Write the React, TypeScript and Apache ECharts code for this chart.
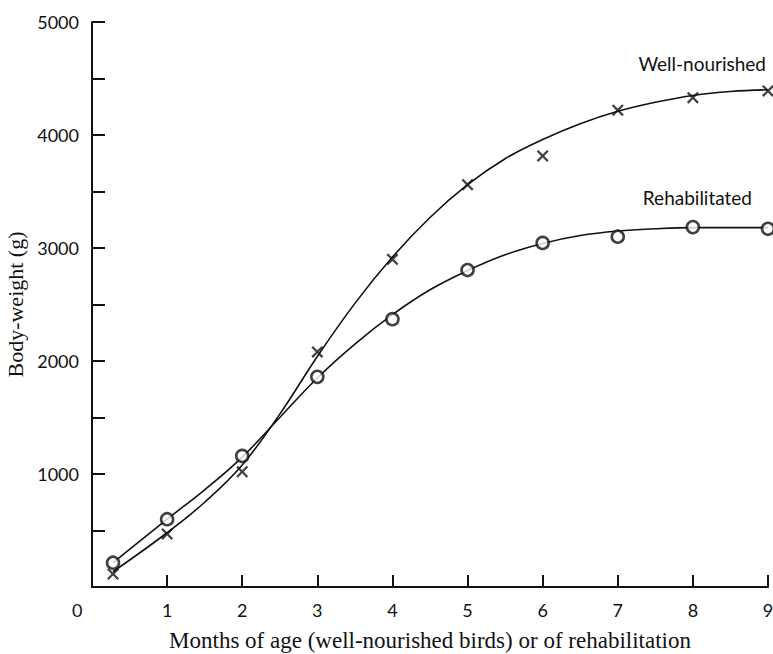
import React, { useEffect, useRef } from "react";
import * as echarts from "echarts";

// Observed points (months, body-weight g)
const wellMonths = [0.28, 1, 2, 3, 4, 5, 6, 7, 8, 9];
const wellWeights = [115, 470, 1020, 2080, 2900, 3560, 3815, 4220, 4330, 4390];
const rehabMonths = [0.28, 1, 2, 3, 4, 5, 6, 7, 8, 9];
const rehabWeights = [215, 600, 1160, 1860, 2370, 2805, 3045, 3100, 3185, 3170];

// Fitted curves
const curveMonths = [0.28, 1, 1.5, 2, 2.5, 3, 3.5, 4, 4.5, 5, 5.5, 6, 6.5, 7, 7.5, 8, 8.5, 9];
const wellCurve = [135, 480, 750, 1080, 1530, 2040, 2510, 2920, 3270, 3560, 3790, 3960, 4100, 4210, 4290, 4350, 4385, 4400];
const rehabCurve = [215, 600, 860, 1150, 1500, 1850, 2150, 2410, 2630, 2800, 2940, 3040, 3110, 3150, 3170, 3180, 3180, 3180];

const xTicks = [1, 2, 3, 4, 5, 6, 7, 8, 9];
const yTicks = [1000, 2000, 3000, 4000, 5000];

const seriesNames = ["Well-nourished", "Rehabilitated"];
const xAxisTitle = "Months of age (well-nourished birds) or of rehabilitation";
const yAxisTitle = "Body-weight (g)";

const CROSS = "path://M0,1.6L1.6,0L6,4.4L10.4,0L12,1.6L7.6,6L12,10.4L10.4,12L6,7.6L1.6,12L0,10.4L4.4,6Z";
const SANS = "Lato, 'Open Sans', sans-serif";
const SERIF = "'Liberation Serif', 'DejaVu Serif', serif";

export default function App() {
  const ref = useRef<HTMLDivElement>(null);
  useEffect(() => {
    if (!ref.current) return;
    const chart = echarts.init(ref.current, null, { renderer: "svg" });
    const pair = (xs: number[], ys: number[]) => xs.map((x, i) => [x, ys[i]]);
    chart.setOption({
      animation: false,
      backgroundColor: "#ffffff",
      grid: { left: 92, right: 5, top: 22, bottom: 67, containLabel: false, outerBoundsMode: "none" },
      xAxis: {
        type: "value",
        min: 0,
        max: 9,
        interval: 1,
        name: xAxisTitle,
        nameLocation: "middle",
        nameGap: 42,
        nameTextStyle: { fontFamily: SERIF, fontSize: 23, color: "#111" },
        axisLine: { show: true, lineStyle: { color: "#111", width: 2 } },
        axisTick: { show: true, inside: true, length: 12, lineStyle: { color: "#111", width: 2 } },
        splitLine: { show: false },
        axisLabel: {
          fontFamily: SANS,
          fontSize: 18,
          color: "#111",
          margin: 14,
          formatter: (v: number) => (xTicks.includes(v) ? String(v) : ""),
        },
      },
      yAxis: {
        type: "value",
        min: 0,
        max: 5000,
        interval: 500,
        name: yAxisTitle,
        nameLocation: "middle",
        nameGap: 64,
        nameRotate: 90,
        nameTextStyle: { fontFamily: SERIF, fontSize: 22, color: "#111" },
        axisLine: { show: true, lineStyle: { color: "#111", width: 2 } },
        axisTick: { show: true, inside: true, length: 13, lineStyle: { color: "#111", width: 2 } },
        splitLine: { show: false },
        axisLabel: {
          fontFamily: SANS,
          fontSize: 18,
          color: "#111",
          margin: 13,
          formatter: (v: number) => (yTicks.includes(v) ? String(v) : ""),
        },
      },
      graphic: [
        {
          type: "text",
          left: 72,
          top: 601,
          style: { text: "0", fontFamily: SANS, fontSize: 18, fill: "#111" },
        },
        {
          type: "text",
          right: 7,
          top: 54,
          style: { text: seriesNames[0], fontFamily: SANS, fontSize: 19, fill: "#111" },
        },
        {
          type: "text",
          right: 21,
          top: 188,
          style: { text: seriesNames[1], fontFamily: SANS, fontSize: 19, fill: "#111" },
        },
      ],
      series: [
        {
          name: seriesNames[0] + " curve",
          type: "line",
          smooth: 0.4,
          showSymbol: false,
          data: pair(curveMonths, wellCurve),
          lineStyle: { color: "#111", width: 1.6 },
          z: 2,
        },
        {
          name: seriesNames[1] + " curve",
          type: "line",
          smooth: 0.4,
          showSymbol: false,
          data: pair(curveMonths, rehabCurve),
          lineStyle: { color: "#111", width: 1.6 },
          z: 2,
        },
        {
          name: seriesNames[0],
          type: "scatter",
          symbol: CROSS,
          symbolSize: 12,
          data: pair(wellMonths, wellWeights),
          itemStyle: { color: "#111" },
          z: 3,
        },
        {
          name: seriesNames[1],
          type: "scatter",
          symbol: "circle",
          symbolSize: 12,
          data: pair(rehabMonths, rehabWeights),
          itemStyle: { color: "#fff", borderColor: "#111", borderWidth: 2.6 },
          z: 3,
        },
      ],
    });
    return () => chart.dispose();
  }, []);
  return <div ref={ref} style={{ width: 773, height: 654, position: "absolute", left: 0, top: 0 }} />;
}
